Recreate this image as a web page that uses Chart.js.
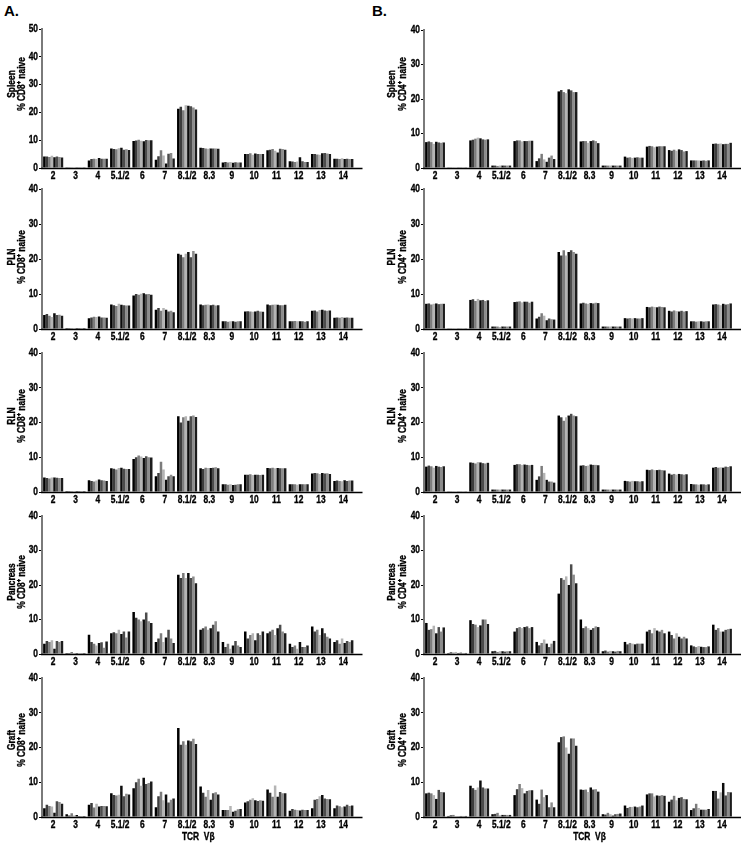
<!DOCTYPE html>
<html>
<head>
<meta charset="utf-8">
<script src="https://cdn.jsdelivr.net/npm/chart.js@4/dist/chart.umd.min.js"></script>
<style>
  html, body { margin:0; padding:0; background:#fff; }
  body { width:750px; height:846px; position:relative; overflow:hidden; font-family:'Liberation Sans', Arial, sans-serif; }
  canvas { position:absolute; }
  .lbl { position:absolute; font-weight:bold; font-size:15px; font-family:'Liberation Sans', Arial, sans-serif; }
</style>
</head>
<body>
<div class="lbl" style="left:4px;top:2px;">A.</div>
<div class="lbl" style="left:372px;top:2px;">B.</div>
<canvas id="c0"></canvas><canvas id="c1"></canvas><canvas id="c2"></canvas><canvas id="c3"></canvas><canvas id="c4"></canvas>
<canvas id="c5"></canvas><canvas id="c6"></canvas><canvas id="c7"></canvas><canvas id="c8"></canvas><canvas id="c9"></canvas>
<script>
// ---------------- DATA ----------------
const categories = ['2','3','4','5.1/2','6','7','8.1/2','8.3','9','10','11','12','13','14'];
const tissues = ['Spleen','PLN','RLN','Pancreas','Graft'];
const cellLabels = ['% CD8\u207a naive', '% CD4\u207a naive'];
const xAxisTitle = 'TCR  V\u03b2';

// each row = one TCR Vβ category, 8 values = individual bars (animals) in that group
const spleenCD8 = [
 [4.1,4.1,4.0,4.4,3.9,4.1,4.0,3.8],[0.3,0.3,0.3,0.3,0.3,0.3,0.3,0.3],[2.7,3.2,3.3,3.2,3.6,3.3,3.3,3.3],
 [7.0,6.8,6.7,7.1,7.3,6.6,6.7,6.5],[9.7,9.9,10.2,9.8,9.6,10.1,10.0,10.0],[3.0,4.2,6.4,4.5,1.6,5.1,5.4,3.4],
 [21.3,22.0,20.8,22.6,22.4,22.2,21.8,21.0],[7.3,7.2,7.0,6.9,7.0,7.0,7.0,6.9],[2.0,2.2,2.0,2.2,1.9,2.1,2.0,2.0],
 [5.0,5.0,5.3,4.8,5.2,5.0,5.0,5.0],[6.4,6.6,6.8,6.2,5.6,6.9,6.8,6.6],[2.4,2.3,2.2,2.3,3.9,2.4,2.2,2.2],
 [5.0,5.0,4.9,4.8,5.3,5.4,5.2,5.0],[3.3,3.3,3.2,3.5,3.2,3.3,3.2,3.2]];
const plnCD8 = [
 [4.0,4.3,3.8,3.4,4.5,4.0,4.1,3.8],[0.3,0.3,0.3,0.3,0.3,0.3,0.3,0.3],[3.1,3.3,3.5,3.4,3.6,3.3,3.3,3.2],
 [7.0,6.8,6.6,7.2,6.9,6.8,6.7,6.7],[9.6,10.0,9.8,10.1,10.2,9.9,10.0,9.8],[5.5,6.0,5.2,6.0,5.5,5.0,5.2,4.8],
 [21.5,21.2,20.5,21.5,22.0,20.5,22.3,21.5],[7.0,6.8,6.9,7.0,6.8,6.9,6.7,6.8],[2.2,2.2,2.1,2.2,2.2,2.1,2.2,2.2],
 [5.0,5.1,5.0,4.9,5.0,5.2,5.0,4.9],[7.0,6.8,6.9,7.0,6.9,6.8,6.8,6.9],[2.2,2.2,2.3,2.2,2.2,2.2,2.1,2.2],
 [5.2,5.3,5.0,5.4,5.5,5.3,5.2,5.3],[3.2,3.3,3.2,3.4,3.2,3.3,3.2,3.2]];
const rlnCD8 = [
 [4.2,4.0,3.9,4.2,4.2,4.1,4.0,4.0],[0.3,0.3,0.3,0.3,0.3,0.3,0.3,0.3],[3.4,3.2,3.0,3.3,3.6,3.4,3.3,3.2],
 [6.8,6.7,6.5,6.9,7.0,6.7,6.6,6.6],[9.5,10.0,10.5,10.2,9.8,10.3,10.0,9.9],[4.5,5.5,8.7,6.5,3.5,4.5,5.0,4.5],
 [21.8,20.0,21.5,21.8,20.5,21.8,22.0,21.6],[6.8,6.6,7.0,6.9,6.9,7.0,7.1,6.8],[2.2,2.2,2.1,2.2,2.0,2.1,2.2,2.2],
 [5.0,5.0,5.1,4.9,5.0,5.0,4.9,5.0],[6.9,6.8,7.0,6.8,6.9,6.8,6.8,6.8],[2.2,2.2,2.2,2.1,2.2,2.2,2.2,2.2],
 [5.3,5.5,5.4,5.2,5.5,5.3,5.4,5.2],[3.2,3.3,3.2,3.1,3.4,3.2,3.3,3.3]];
const pancreasCD8 = [
 [3.0,3.8,3.5,4.0,1.5,3.8,3.5,3.8],[0.3,0.3,0.6,0.3,0.3,0.2,0.3,0.3],[5.6,3.5,3.0,2.5,3.2,3.4,1.8,3.6],
 [6.0,6.3,6.0,7.0,5.8,6.5,4.8,6.5],[12.2,10.5,10.0,9.5,10.0,12.0,9.5,9.0],[3.5,4.5,6.0,3.5,4.8,7.0,4.5,3.2],
 [23.0,22.0,23.5,22.0,23.5,22.0,22.5,20.5],[7.0,7.5,8.0,7.0,7.5,8.5,9.5,6.5],[3.5,2.0,3.0,1.5,2.5,3.8,2.5,2.0],
 [6.5,4.5,5.5,6.0,4.0,6.0,5.5,6.5],[6.0,6.5,7.0,5.5,7.5,8.5,6.5,6.0],[3.0,2.0,2.5,1.5,3.5,2.0,2.0,2.5],
 [8.0,6.5,7.0,5.5,7.5,6.0,5.0,4.5],[3.5,4.0,3.0,4.5,3.2,3.8,3.5,4.0]];
const graftCD8 = [
 [2.5,3.5,3.2,3.0,1.2,4.5,4.3,3.8],[0.8,0.4,1.1,0.4,0.6,0.3,0.3,0.3],[3.5,4.0,2.7,3.8,3.0,3.2,3.2,3.1],
 [6.8,6.3,6.2,6.4,9.0,6.0,6.7,6.5],[8.3,10.0,11.0,9.0,11.3,9.5,9.8,10.2],[2.8,6.0,7.3,4.8,6.5,4.2,5.0,5.3],
 [25.6,20.8,21.8,20.8,22.0,21.8,22.5,21.0],[8.8,7.0,5.8,7.8,5.0,6.8,7.1,6.5],[2.0,2.0,2.0,3.2,1.5,1.8,2.2,2.3],
 [4.2,4.5,5.0,5.4,4.8,4.6,4.8,4.7],[7.9,7.0,5.8,9.1,5.8,7.2,6.8,6.8],[1.8,2.3,2.1,2.0,1.9,2.1,2.0,2.0],
 [2.5,5.0,5.2,6.0,6.3,5.3,5.2,5.1],[2.5,3.3,3.1,2.8,3.0,3.5,3.2,3.3]];

const spleenCD4 = [
 [7.5,7.7,7.5,7.0,7.6,7.4,7.3,7.4],[0.2,0.2,0.2,0.2,0.2,0.2,0.2,0.2],[8.0,8.2,8.5,8.8,8.6,8.3,8.2,8.3],
 [0.7,0.7,0.6,0.7,0.7,0.7,0.7,0.7],[7.8,8.0,8.0,7.7,7.8,7.8,7.9,7.9],[2.0,2.8,4.1,2.5,1.8,3.0,3.6,2.6],
 [22.2,22.6,22.0,21.7,22.8,22.5,22.0,22.0],[7.7,7.8,7.8,7.3,7.8,8.0,7.8,7.2],[0.7,0.7,0.7,0.7,0.7,0.7,0.7,0.7],
 [3.3,3.0,3.1,2.9,3.0,3.1,3.0,3.0],[6.2,6.4,6.3,6.0,6.2,6.3,6.3,6.3],[5.2,5.0,5.3,5.0,5.4,5.2,4.8,4.9],
 [2.2,2.2,2.2,2.2,2.1,2.2,2.1,2.2],[7.0,7.1,7.0,7.1,6.9,7.0,7.0,7.3]];
const plnCD4 = [
 [7.2,7.3,7.0,7.2,7.3,7.1,7.2,7.2],[0.2,0.2,0.2,0.2,0.2,0.2,0.2,0.2],[8.3,8.5,8.0,8.6,8.2,8.3,8.0,8.2],
 [0.7,0.7,0.7,0.6,0.7,0.7,0.7,0.7],[7.7,7.8,7.9,7.6,7.8,7.8,7.5,7.8],[3.0,3.5,4.5,3.8,2.5,3.0,2.8,2.7],
 [22.0,21.0,22.5,21.0,22.0,22.5,22.0,21.5],[7.3,7.5,7.3,7.2,7.4,7.3,7.5,7.4],[0.7,0.7,0.7,0.7,0.7,0.7,0.7,0.7],
 [3.1,3.0,3.1,3.0,3.1,3.0,3.0,3.1],[6.3,6.2,6.4,6.3,6.2,6.4,6.3,6.2],[5.2,5.0,5.3,5.1,5.0,5.2,5.0,5.1],
 [2.2,2.2,2.1,2.2,2.2,2.1,2.2,2.2],[7.0,7.1,7.0,6.8,7.2,7.0,7.1,7.3]];
const rlnCD4 = [
 [7.3,7.6,7.4,7.0,7.5,7.3,7.2,7.4],[0.2,0.2,0.2,0.2,0.2,0.2,0.2,0.2],[8.5,8.4,8.2,8.6,8.5,8.3,8.2,8.4],
 [0.7,0.7,0.7,0.7,0.7,0.7,0.7,0.7],[7.8,8.0,8.0,7.8,7.9,7.8,7.7,7.8],[3.5,4.5,7.5,5.5,3.5,3.0,3.0,2.7],
 [22.0,21.5,20.5,21.5,22.0,22.5,22.0,21.8],[7.6,7.7,7.5,7.6,7.9,7.8,7.8,7.7],[0.7,0.7,0.7,0.7,0.7,0.7,0.7,0.7],
 [3.2,3.1,3.0,3.2,3.1,3.1,3.0,3.1],[6.4,6.3,6.5,6.3,6.3,6.4,6.3,6.2],[5.3,5.0,5.2,5.0,5.2,5.1,5.0,5.1],
 [2.3,2.2,2.2,2.1,2.2,2.2,2.1,2.2],[7.0,7.2,7.0,7.1,7.0,7.3,7.2,7.4]];
const pancreasCD4 = [
 [9.0,7.0,7.2,8.2,6.0,7.8,6.5,7.7],[0.3,0.5,0.4,0.6,0.3,0.4,0.3,0.3],[9.8,8.7,8.5,7.8,8.3,10.0,10.0,8.7],
 [0.8,0.9,0.6,0.8,0.8,0.7,0.8,0.8],[6.5,7.5,7.8,7.5,7.8,8.0,7.5,7.8],[3.5,2.5,3.2,4.2,3.0,2.0,3.0,3.8],
 [17.5,22.0,21.5,22.5,20.0,26.0,23.0,20.5],[10.0,7.5,8.0,7.5,7.0,7.5,8.0,7.8],[0.8,1.0,0.7,0.9,0.8,0.7,0.9,0.8],
 [3.5,2.8,3.2,3.0,2.8,3.0,3.0,3.0],[6.5,7.0,6.0,7.5,6.8,6.5,7.0,6.0],[6.5,5.5,4.5,6.0,5.0,4.5,5.0,4.5],
 [2.5,2.2,2.0,2.3,2.1,2.0,2.0,2.2],[8.5,7.0,7.5,6.5,6.5,7.0,7.2,7.3]];
const graftCD4 = [
 [6.8,7.0,6.8,6.3,5.2,7.8,7.2,7.1],[0.3,0.5,0.6,0.3,0.2,0.3,0.3,0.3],[9.0,8.3,7.8,8.5,10.5,8.5,8.2,8.2],
 [0.8,0.9,1.2,0.5,0.6,0.6,0.6,0.6],[6.3,8.0,9.5,8.3,6.8,7.5,7.7,7.7],[5.0,3.8,7.9,5.7,6.3,2.8,4.2,2.8],
 [21.5,23.0,23.2,20.0,18.2,22.6,22.6,20.5],[7.9,7.8,7.9,7.2,8.5,7.9,8.0,7.3],[0.8,0.7,1.2,0.8,0.4,0.8,0.9,1.0],
 [3.3,2.6,2.9,2.9,3.0,2.8,3.0,3.3],[6.5,6.8,6.8,5.9,6.2,6.1,6.3,6.1],[4.4,5.0,6.1,4.8,5.5,5.7,5.2,5.1],
 [2.0,2.5,3.8,2.6,2.1,2.1,2.1,2.3],[7.5,7.5,5.3,7.1,9.8,6.2,7.2,7.1]];

const cd8Panels = [spleenCD8, plnCD8, rlnCD8, pancreasCD8, graftCD8];
const cd4Panels = [spleenCD4, plnCD4, rlnCD4, pancreasCD4, graftCD4];
const cd8Max = [50, 40, 40, 40, 40];
const cd4Max = [40, 40, 40, 40, 40];

// ---------------- STYLE / LAYOUT ----------------
const barColors = ['#000000','#3c3c3c','#7c7c7c','#b4b4b4','#0c0c0c','#4c4c4c','#8c8c8c','#1c1c1c'];
const FONTFAMILY = "'Liberation Sans', Arial, sans-serif";
const TXT = 'bold 10.5px ' + FONTFAMILY;
const SX = 0.8; // horizontal condensation of the narrow figure lettering
const rows = [
  {T:0,   M:[29,30], Z:168, H:186, titleY:84},
  {T:175, M:[189,189], Z:329, H:172, titleY:257},
  {T:339, M:[353,353], Z:492, H:171, titleY:416},
  {T:502, M:[516,516], Z:654, H:170, titleY:582},
  {T:664, M:[678,678], Z:817, H:182, titleY:740}
];
const cols = [
  {X:0,   W:370, left:42, right:354.5, t1:12, t2:22, xTitleDx:0,  panels:cd8Panels, max:cd8Max},
  {X:370, W:380, left:54, right:363,   t1:22, t2:33, xTitleDx:11, panels:cd4Panels, max:cd4Max}
];

function condText(ctx, text, x, y, align, rotate) {
  ctx.save();
  ctx.translate(x, y);
  if (rotate) ctx.rotate(-Math.PI / 2);
  ctx.scale(SX, 1);
  ctx.font = TXT; ctx.fillStyle = '#000'; ctx.strokeStyle = '#000'; ctx.lineWidth = 0.35;
  ctx.textAlign = align; ctx.textBaseline = 'middle';
  ctx.fillText(text, 0, 0);
  ctx.strokeText(text, 0, 0);
  ctx.restore();
}

const lettering = {
  id: 'lettering',
  afterDraw(chart, args, o) {
    const a = chart.chartArea, ctx = chart.ctx;
    const xs = chart.scales.x, ys = chart.scales.y;
    ctx.save();
    ctx.strokeStyle = '#000'; ctx.lineWidth = 1.5;
    ctx.beginPath(); ctx.moveTo(a.left - 1, a.bottom + 0.5); ctx.lineTo(a.right + 8, a.bottom + 0.5); ctx.stroke();
    ctx.restore();
    chart.data.labels.forEach((lab, i) => condText(ctx, lab, xs.getPixelForTick(i), a.bottom + 8, 'center', false));
    ys.ticks.forEach((t, i) => condText(ctx, String(t.value), a.left - 4, ys.getPixelForTick(i), 'right', false));
    const ty = o.titleY - o.top;
    condText(ctx, o.tissue, o.t1, ty, 'center', true);
    condText(ctx, o.cell, o.t2, ty, 'center', true);
    if (o.xTitle) condText(ctx, o.xTitle, (a.left + a.right) / 2 + o.xTitleDx, a.bottom + 20, 'center', false);
  }
};

cols.forEach((col, ci) => {
  rows.forEach((row, ri) => {
    const cv = document.getElementById('c' + (ci * 5 + ri));
    cv.width = col.W; cv.height = row.H;
    cv.style.left = col.X + 'px'; cv.style.top = row.T + 'px';
    const padTop = row.M[ci] - row.T;
    const isLast = ri === 4;
    const xH = 16;
    const padBottom = row.H - (row.Z - row.T) - xH;
    const panel = col.panels[ri];
    const datasets = barColors.map((c, k) => ({
      data: panel.map(g => g[k]),
      backgroundColor: c,
      borderWidth: 0
    }));
    new Chart(cv, {
      type: 'bar',
      data: { labels: categories, datasets },
      plugins: [lettering],
      options: {
        responsive: false, animation: false, devicePixelRatio: 1,
        layout: { padding: { left: 0, right: col.W - col.right, top: padTop, bottom: padBottom } },
        plugins: {
          legend: { display: false }, tooltip: { enabled: false },
          lettering: { tissue: tissues[ri], cell: cellLabels[ci], t1: col.t1, t2: col.t2,
                       titleY: row.titleY, top: row.T, xTitle: isLast ? xAxisTitle : null, xTitleDx: col.xTitleDx }
        },
        datasets: { bar: { categoryPercentage: 0.9, barPercentage: 1.0 } },
        scales: {
          x: {
            grid: { display: false, drawTicks: false },
            border: { display: false },
            ticks: { display: false, autoSkip: false },
            afterFit(s) { s.height = xH; }
          },
          y: {
            min: 0, max: col.max[ri],
            grid: { drawOnChartArea: false, drawTicks: true, tickLength: 3, color: '#000', lineWidth: 1 },
            border: { display: true, color: '#7a7a7a', width: 2 },
            ticks: { display: false, stepSize: 10 },
            afterFit(s) { s.width = col.left; }
          }
        }
      }
    });
  });
});
</script>
</body>
</html>
